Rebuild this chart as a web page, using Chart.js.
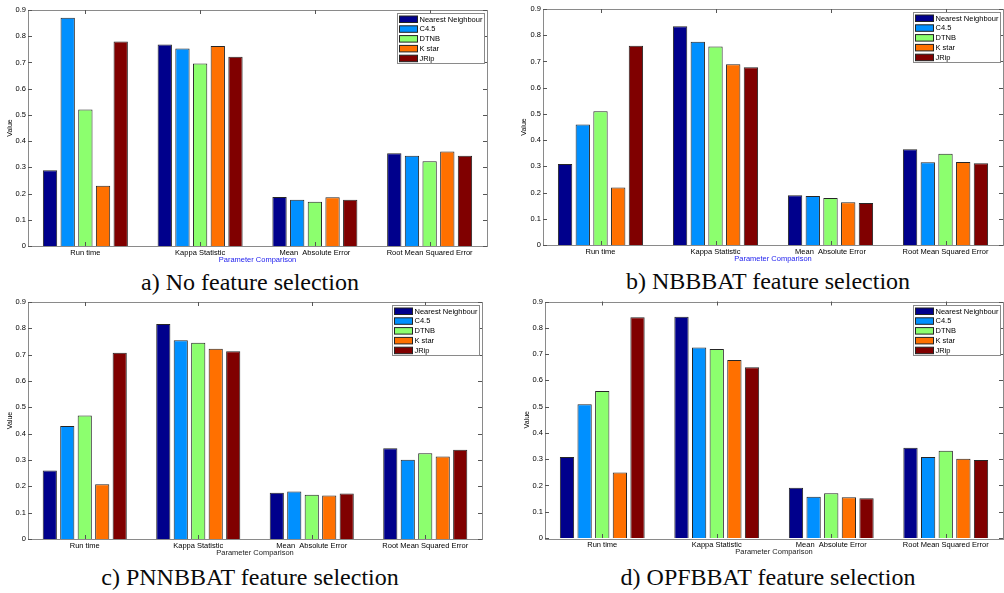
<!DOCTYPE html>
<html>
<head>
<meta charset="utf-8">
<script src="https://cdn.jsdelivr.net/npm/chart.js"></script>
<style>
body { margin: 0; background: #fff; width: 1004px; height: 593px; position: relative; overflow: hidden; }
canvas { position: absolute; }
.cap { position: absolute; width: 500px; text-align: center; font-family: "Liberation Serif", "Times New Roman", serif; font-size: 24px; line-height: 26px; color: #0a0a0a; }
</style>
</head>
<body>
<canvas id="chartA" width="500" height="266" style="left:0;top:0"></canvas>
<canvas id="chartB" width="504" height="265" style="left:500px;top:0"></canvas>
<canvas id="chartC" width="500" height="264" style="left:0;top:295px"></canvas>
<canvas id="chartD" width="504" height="263" style="left:500px;top:295px"></canvas>
<div class="cap" style="left:0;top:269px">a) No feature selection</div>
<div class="cap" style="left:518px;top:268px">b) NBBBAT feature selection</div>
<div class="cap" style="left:0;top:564px">c) PNNBBAT feature selection</div>
<div class="cap" style="left:518px;top:564px">d) OPFBBAT feature selection</div>
<script>
var categories = ["Run time", "Kappa Statistic", "Mean  Absolute Error", "Root Mean Squared Error"];
var classifiers = ["Nearest Neighbour", "C4.5", "DTNB", "K star", "JRip"];
var barColors = ["#00008c", "#0090ff", "#8cff6e", "#ff7000", "#800000"];
var yTicks = [0, 0.1, 0.2, 0.3, 0.4, 0.5, 0.6, 0.7, 0.8, 0.9];

// one row per classifier, values per category
var noSelection = [
    [0.289, 0.768, 0.187, 0.354],
    [0.870, 0.753, 0.176, 0.344],
    [0.521, 0.696, 0.169, 0.323],
    [0.230, 0.763, 0.186, 0.360],
    [0.780, 0.722, 0.176, 0.344]
];
var nbbbatSelection = [
    [0.309, 0.834, 0.190, 0.365],
    [0.460, 0.775, 0.187, 0.316],
    [0.510, 0.757, 0.179, 0.348],
    [0.219, 0.689, 0.163, 0.317],
    [0.760, 0.678, 0.160, 0.312]
];
var pnnbbatSelection = [
    [0.260, 0.816, 0.176, 0.345],
    [0.429, 0.755, 0.180, 0.301],
    [0.469, 0.745, 0.168, 0.326],
    [0.208, 0.722, 0.165, 0.313],
    [0.707, 0.713, 0.173, 0.339]
];
var opfbbatSelection = [
    [0.308, 0.842, 0.191, 0.343],
    [0.509, 0.725, 0.157, 0.308],
    [0.559, 0.719, 0.170, 0.332],
    [0.249, 0.677, 0.155, 0.302],
    [0.840, 0.650, 0.151, 0.297]
];

// box, inward ticks and legend like the matlab figure
var framePlugin = {
    id: 'frame',
    afterDraw: function (chart) {
        var ctx = chart.ctx, a = chart.chartArea;
        var ys = chart.scales.y, xs = chart.scales.x;
        ctx.save();
        ctx.strokeStyle = '#8a8a8a';
        ctx.lineWidth = 1;
        ctx.strokeRect(Math.round(a.left) + 0.5, Math.round(a.top) + 0.5, Math.round(a.right - a.left), Math.round(a.bottom - a.top));
        ctx.strokeStyle = '#555';
        ctx.beginPath();
        yTicks.forEach(function (v) {
            var y = Math.round(ys.getPixelForValue(v)) + 0.5;
            ctx.moveTo(a.left, y); ctx.lineTo(a.left + 4, y);
            ctx.moveTo(a.right, y); ctx.lineTo(a.right - 4, y);
        });
        categories.forEach(function (c, i) {
            var x = Math.round(xs.getPixelForValue(i)) + 0.5;
            ctx.moveTo(x, a.bottom); ctx.lineTo(x, a.bottom - 4);
            ctx.moveTo(x, a.top); ctx.lineTo(x, a.top + 4);
        });
        ctx.stroke();

        var bw = 87, bh = 50;
        var bx = Math.round(a.right - 3 - bw) + 0.5, by = Math.round(a.top + 3) + 0.5;
        ctx.fillStyle = '#fff';
        ctx.fillRect(bx, by, bw, bh);
        ctx.strokeStyle = '#8a8a8a';
        ctx.strokeRect(bx, by, bw, bh);
        ctx.font = '7.5px Arial, "Liberation Sans", sans-serif';
        ctx.textBaseline = 'middle';
        chart.data.datasets.forEach(function (ds, i) {
            var sy = by + 2.5 + i * 9.8;
            ctx.fillStyle = ds.backgroundColor;
            ctx.fillRect(bx + 2, sy, 18, 6.5);
            ctx.strokeStyle = '#222';
            ctx.strokeRect(bx + 2, sy, 18, 6.5);
            ctx.fillStyle = '#000';
            ctx.fillText(ds.label, bx + 22, sy + 3.5);
        });
        ctx.restore();
    }
};

function makeChart(id, values, opts) {
    var ctx = document.getElementById(id).getContext('2d');
    return new Chart(ctx, {
        type: 'bar',
        data: {
            labels: categories,
            datasets: classifiers.map(function (name, i) {
                return {
                    label: name,
                    data: values[i],
                    backgroundColor: barColors[i],
                    borderColor: '#262626',
                    borderWidth: 1,
                    categoryPercentage: 0.77,
                    barPercentage: 0.81
                };
            })
        },
        options: {
            responsive: false,
            animation: false,
            devicePixelRatio: 1,
            layout: { padding: { left: 0, top: opts.top, right: opts.right, bottom: 0 } },
            plugins: { legend: { display: false }, tooltip: { enabled: false } },
            scales: {
                x: {
                    grid: { display: false, drawTicks: false },
                    border: { display: false },
                    ticks: { font: { size: 7.5, family: 'Arial' }, color: '#000', padding: 2, maxRotation: 0, autoSkip: false },
                    title: { display: true, text: 'Parameter Comparison', color: opts.titleColor, font: { size: 7.5, family: 'Arial' }, padding: 2 },
                    afterFit: function (s) { s.height = 20; }
                },
                y: {
                    min: 0,
                    max: 0.9,
                    grid: { display: false, drawTicks: false },
                    border: { display: false },
                    ticks: { stepSize: 0.1, font: { size: 7.5, family: 'Arial' }, color: '#000', padding: 2 },
                    title: { display: true, text: 'Value', color: '#000', font: { size: 7, family: 'Arial' }, padding: opts.titlePad },
                    afterFit: function (s) { s.width = opts.yWidth; }
                }
            }
        },
        plugins: [framePlugin]
    });
}

makeChart('chartA', noSelection, { top: 10, right: 13, yWidth: 28, titlePad: 6, titleColor: '#2222ee' });
makeChart('chartB', nbbbatSelection, { top: 9, right: 1, yWidth: 43, titlePad: 20, titleColor: '#2222ee' });
makeChart('chartC', pnnbbatSelection, { top: 7, right: 18, yWidth: 28, titlePad: 6, titleColor: '#222' });
makeChart('chartD', opfbbatSelection, { top: 5, right: 1, yWidth: 45, titlePad: 23, titleColor: '#222' });
</script>
</body>
</html>
